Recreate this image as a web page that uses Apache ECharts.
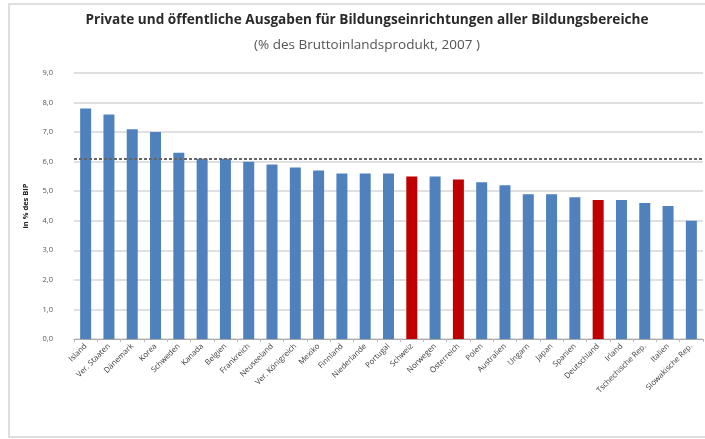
<!DOCTYPE html>
<html>
<head>
<meta charset="utf-8">
<script src="https://cdn.jsdelivr.net/npm/echarts@6/dist/echarts.min.js"></script>
<style>
html,body{margin:0;padding:0;background:#fff;}
#c{width:705px;height:439px;}
</style>
</head>
<body>
<div id="c"></div>
<script>
var categories = ["Island","Ver. Staaten","Dänemark","Korea","Schweden","Kanada","Belgien","Frankreich","Neuseeland","Ver. Königreich","Mexiko","Finnland","Niederlande","Portugal","Schweiz","Norwegen","Österreich","Polen","Australien","Ungarn","Japan","Spanien","Deutschland","Irland","Tschechische Rep.","Italien","Slowakische Rep."];
var values = [7.8,7.6,7.1,7.0,6.3,6.1,6.1,6.0,5.9,5.8,5.7,5.6,5.6,5.6,5.5,5.5,5.4,5.3,5.2,4.9,4.9,4.8,4.7,4.7,4.6,4.5,4.0];
var highlighted = ["Schweiz","Österreich","Deutschland"];
var averageValue = 6.1;
var yTicks = [0,1,2,3,4,5,6,7,8,9];

var chart = echarts.init(document.getElementById('c'), null, {renderer:'canvas'});
var data = values.map(function(v,i){
  var hl = highlighted.indexOf(categories[i]) >= 0;
  return {value:v, itemStyle:{color: hl ? '#C00000' : '#4F81BD'}};
});
chart.setOption({
  animation:false,
  backgroundColor:'#fff',
  graphic:[{type:'rect', shape:{x:9,y:4,width:720,height:433}, style:{fill:'none', stroke:'#d4d4d4', lineWidth:1.5}, z:-1}],
  title:{
    text:'Private und öffentliche Ausgaben für Bildungseinrichtungen aller Bildungsbereiche',
    subtext:'(% des Bruttoinlandsprodukt, 2007 )',
    left:362, textAlign:'center', top:8, itemGap:11,
    textStyle:{fontFamily:'Open Sans', fontSize:13.6, fontWeight:'bold', color:'#2a2a2a'},
    subtextStyle:{fontFamily:'Open Sans', fontSize:13.5, color:'#555'}
  },
  grid:{left:74, right:2, top:73, bottom:100, containLabel:false},
  xAxis:{
    type:'category', data:categories,
    axisTick:{show:true, alignWithLabel:false, lineStyle:{color:'#bbb'}, length:3},
    axisLine:{lineStyle:{color:'#aaa'}},
    axisLabel:{interval:0, rotate:45, fontFamily:'Open Sans', fontSize:7.8, color:'#3a3a3a', margin:6}
  },
  yAxis:{
    type:'value', min:0, max:9, interval:1,
    name:'in % des BIP', nameLocation:'middle', nameGap:44, nameRotate:90,
    nameTextStyle:{fontFamily:'Open Sans', fontSize:7.5, fontWeight:'bold', color:'#222'},
    axisLine:{show:false}, axisTick:{show:false},
    axisLabel:{fontFamily:'Open Sans', fontSize:7.5, color:'#555', margin:21,
      formatter:function(v){return yTicks.indexOf(v)>=0 ? v.toFixed(1).replace('.',',') : '';}},
    splitLine:{lineStyle:{color:'#d6d6d6', width:1.5}}
  },
  series:[{
    type:'bar', data:data, barWidth:11,
    markLine:{
      silent:true, symbol:'none', label:{show:false},
      lineStyle:{color:'#666', type:[3,2], width:2},
      data:[{yAxis:averageValue}]
    }
  }]
});
</script>
</body>
</html>
